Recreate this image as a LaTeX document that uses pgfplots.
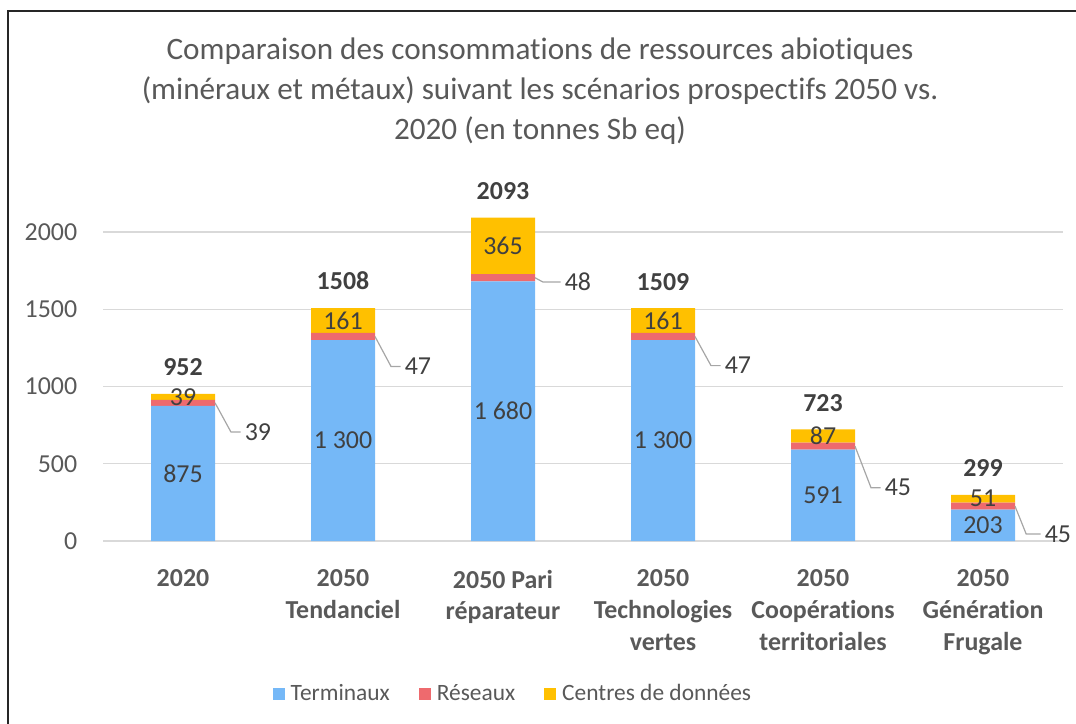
\documentclass[border=0pt]{standalone}
\usepackage{fontspec}
\setmainfont{Carlito}[Ligatures={NoCommon,NoRare}]
\usepackage{pgfplots}
\pgfplotsset{compat=1.18}
\definecolor{cT}{RGB}{117,184,247}
\definecolor{cR}{RGB}{238,106,110}
\definecolor{cC}{RGB}{255,192,0}
\definecolor{txt}{RGB}{89,89,89}
\definecolor{lab}{RGB}{64,64,64}
\definecolor{gridc}{RGB}{217,217,217}
\definecolor{lead}{RGB}{166,166,166}
\begin{document}
\fontsize{26}{32}\selectfont
\begin{tikzpicture}
\useasboundingbox (0,0) rectangle (1076bp,-724bp);
\begin{scope}
\clip (0,0) rectangle (1076bp,-724bp);
\draw[line width=2bp, black!85] (8bp,-800bp) -- (8bp,-11bp) -- (1200bp,-11bp);
\end{scope}
\node[align=center, text=txt, font=\fontsize{31.3}{40}\selectfont] at (540bp,-91bp) {Comparaison des consommations de ressources abiotiques\\(minéraux et métaux) suivant les scénarios prospectifs 2050 vs.\\2020 (en tonnes Sb eq)};

\begin{axis}[
 at={(103bp,-541bp)}, anchor=south west,
 scale only axis, width=960bp, height=370.8bp,
 ybar stacked, bar width=64bp,
 xmin=-0.5, xmax=5.5, ymin=0, ymax=2400,
 xtick={0,1,2,3,4,5},
 xticklabels={2020, 2050\\Tendanciel, 2050 Pari\\réparateur, 2050\\Technologies\\vertes, 2050\\Coopérations\\territoriales, 2050\\Génération\\Frugale},
 xticklabel style={align=center, text=txt, font=\bfseries\fontsize{26}{32}\selectfont, anchor=north, yshift=-20bp},
 ytick={0,500,1000,1500,2000},
 yticklabel style={text=txt, anchor=east, xshift=-17bp, font=\fontsize{26}{32}\selectfont},
 /pgf/number format/assume math mode=true,
 /pgf/number format/1000 sep={},
 ymajorgrids, grid style={draw=gridc, line width=1.2bp},
 axis x line*=bottom, axis y line*=left,
 x axis line style={draw=gridc, line width=1.2bp, -},
 y axis line style={draw=none},
 major tick length=0pt,
 tick style={draw=none},
 legend style={draw=none, at={(0.427,-0.413)}, anchor=center, legend columns=3,
   /tikz/every even column/.append style={column sep=27bp},
   /tikz/every odd column/.append style={column sep=4bp},
   text=txt, font=\fontsize{23.5}{28}\selectfont},
 legend image code/.code={\fill[#1] (0bp,-6bp) rectangle (12bp,6bp);},
]
\addplot[fill=cT, draw=none] coordinates {(0,875) (1,1300) (2,1680) (3,1300) (4,591) (5,203)};
\addplot[fill=cR, draw=none] coordinates {(0,39) (1,47) (2,48) (3,47) (4,45) (5,45)};
\addplot[fill=cC, draw=none] coordinates {(0,39) (1,161) (2,365) (3,161) (4,87) (5,51)};
\legend{Terminaux, Réseaux, Centres de données}
\end{axis}

\begin{axis}[
 at={(103bp,-541bp)}, anchor=south west,
 scale only axis, width=960bp, height=370.8bp,
 xmin=-0.5, xmax=5.5, ymin=0, ymax=2400,
 hide axis, clip=false,
 nodes near coords, point meta=explicit symbolic,
]
% Terminaux labels (segment middles)
\addplot[draw=none, nodes near coords style={text=lab, anchor=center, font=\fontsize{26}{32}\selectfont}]
 coordinates {(0,437.5)[875] (1,650)[1 300] (2,840)[1 680] (3,650)[1 300] (4,295.5)[591] (5,101.5)[203]};
% Centres de donnees labels
\addplot[draw=none, nodes near coords style={text=lab, anchor=center, font=\fontsize{26}{32}\selectfont}]
 coordinates {(0,933.5)[39] (1,1427.5)[161] (2,1910.5)[365] (3,1427.5)[161] (4,679.5)[87] (5,273.5)[51]};
% Reseaux leader lines
\addplot[lead, line width=1.2bp, nodes near coords=] coordinates {(0.2,894.5) (0.3,705) (0.36,705)};
\addplot[lead, line width=1.2bp, nodes near coords=] coordinates {(1.2,1323.5) (1.3,1130) (1.36,1130)};
\addplot[lead, line width=1.2bp, nodes near coords=] coordinates {(2.2,1704) (2.25,1676) (2.36,1676)};
\addplot[lead, line width=1.2bp, nodes near coords=] coordinates {(3.2,1323.5) (3.3,1135) (3.36,1135)};
\addplot[lead, line width=1.2bp, nodes near coords=] coordinates {(4.2,613.5) (4.3,345) (4.36,345)};
\addplot[lead, line width=1.2bp, nodes near coords=] coordinates {(5.2,225.5) (5.27,45) (5.36,45)};
% Reseaux labels
\addplot[draw=none, nodes near coords style={text=lab, anchor=west, inner sep=4bp, font=\fontsize{26}{32}\selectfont}]
 coordinates {(0.36,705)[39] (1.36,1130)[47] (2.36,1676)[48] (3.36,1135)[47] (4.36,345)[45] (5.36,45)[45]};
% Totals
\addplot[draw=none, nodes near coords style={text=lab, anchor=south, yshift=9bp, font=\bfseries\fontsize{26}{32}\selectfont}]
 coordinates {(0,953)[952] (1,1508)[1508] (2,2093)[2093] (3,1508)[1509] (4,723)[723] (5,299)[299]};
\end{axis}
\end{tikzpicture}
\end{document}
